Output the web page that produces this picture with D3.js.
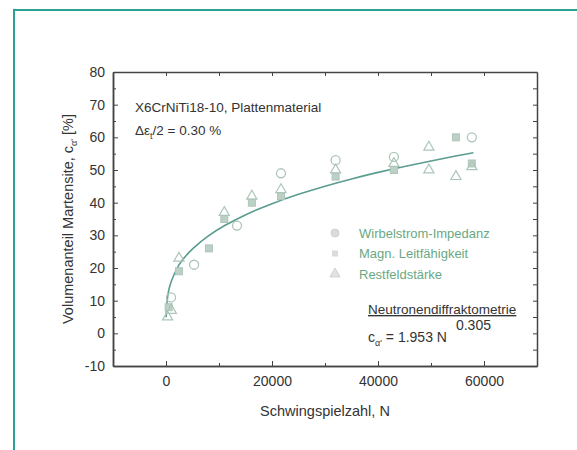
<!DOCTYPE html>
<html>
<head>
<meta charset="utf-8">
<script src="https://cdn.jsdelivr.net/npm/d3@7"></script>
<style>
  body { margin: 0; background: #fff; }
  text { font-family: "Liberation Sans", Arial, sans-serif; }
</style>
</head>
<body>
<div id="chart"></div>
<script>
// x ticks / y ticks
let x_ticks = [0, 20000, 40000, 60000];
let y_ticks = [-10, 0, 10, 20, 30, 40, 50, 60, 70, 80];

// [N, c in %]
let wirbelstrom = [[950, 11], [5300, 21], [13400, 33], [21700, 49], [32000, 53], [43000, 54], [57700, 60]];
let leitfaehigkeit = [[500, 8], [2450, 19], [8100, 26], [11000, 35], [16200, 40], [21700, 42],
                      [32000, 48], [43000, 50], [54700, 60], [57700, 52]];
let restfeld = [[300, 5], [1000, 7], [2450, 23], [11000, 37], [16200, 42], [21700, 44], [32000, 50],
                [43000, 52], [49600, 57], [49600, 50], [54700, 48], [57700, 51]];

// fit curve c = 1.953 N^0.305
let fit_curve = [[20, 4.9], [100, 8.0], [300, 11.5], [600, 13.9], [1000, 16.1], [2000, 19.8], [3000, 22.4],
                 [5000, 26.0], [8000, 30.0], [11000, 33.0], [15000, 36.4], [20000, 39.8], [25000, 42.6],
                 [30000, 45.1], [35000, 47.3], [40000, 49.3], [45000, 51.1], [50000, 52.8], [55000, 54.4], [58000, 55.3]];

let legend_names = ["Wirbelstrom-Impedanz", "Magn. Leitfähigkeit", "Restfeldstärke"];

let W = 577, H = 450;
let margin_left = 113, margin_top = 72, plot_w = 424, plot_h = 294;

let svg = d3.select("#chart").append("svg")
    .attr("width", W).attr("height", H);

// teal frame
svg.append("line").attr("x1", 14).attr("y1", 10).attr("x2", 14).attr("y2", H)
    .attr("stroke", "#2aa395").attr("stroke-width", 2);
svg.append("line").attr("x1", 13).attr("y1", 10).attr("x2", W).attr("y2", 10)
    .attr("stroke", "#2aa395").attr("stroke-width", 2);

let g = svg.append("g").attr("transform", "translate(" + margin_left + "," + margin_top + ")");

let xScale = d3.scaleLinear().domain([-10000, 70000]).range([0, plot_w]);
let yScale = d3.scaleLinear().domain([-10, 80]).range([plot_h, 0]);

let axis_color = "#444";

// axes with inward ticks
let x_axis = g.append("g").attr("transform", "translate(0," + plot_h + ")")
    .call(d3.axisBottom(xScale).tickValues(x_ticks).tickSize(-5).tickSizeOuter(0).tickPadding(10).tickFormat(d => String(d)));
let x_minor = g.append("g").attr("transform", "translate(0," + plot_h + ")")
    .call(d3.axisBottom(xScale).tickValues([10000, 30000, 50000]).tickSize(-3).tickSizeOuter(0).tickFormat(""));
let x_top = g.append("g")
    .call(d3.axisTop(xScale).tickValues(d3.range(0, 70000, 10000)).tickSize(-4).tickSizeOuter(0).tickFormat(""));

let y_axis = g.append("g")
    .call(d3.axisLeft(yScale).tickValues(y_ticks).tickSize(-5).tickSizeOuter(0).tickPadding(8).tickFormat(d => String(d)));
let y_minor = g.append("g")
    .call(d3.axisLeft(yScale).tickValues(d3.range(-5, 80, 10)).tickSize(-3).tickSizeOuter(0).tickFormat(""));
let y_right = g.append("g").attr("transform", "translate(" + plot_w + ",0)")
    .call(d3.axisRight(yScale).tickValues(d3.range(-10, 81, 5)).tickSize(-4).tickSizeOuter(0).tickFormat(""));

g.selectAll(".domain").attr("stroke", axis_color).attr("stroke-width", 1.5);
g.selectAll(".tick line").attr("stroke", axis_color);
g.selectAll(".tick text").attr("fill", "#333").style("font-size", "14px");

// fit line
g.append("path")
    .datum(fit_curve)
    .attr("fill", "none")
    .attr("stroke", "#5a9c90")
    .attr("stroke-width", 1.6)
    .attr("d", d3.line().curve(d3.curveBasis)
        .x(d => xScale(d[0]))
        .y(d => yScale(d[1])));

let mark_color = "#adc6b9";

// open circles
g.selectAll(".circ").data(wirbelstrom).enter().append("circle")
    .attr("cx", d => xScale(d[0])).attr("cy", d => yScale(d[1])).attr("r", 4.5)
    .attr("fill", "none").attr("stroke", mark_color).attr("stroke-width", 1.3);

// filled squares
g.selectAll(".sq").data(leitfaehigkeit).enter().append("rect")
    .attr("x", d => xScale(d[0]) - 3.5).attr("y", d => yScale(d[1]) - 3.5)
    .attr("width", 7).attr("height", 7)
    .attr("fill", "#bcd0c5").attr("stroke", mark_color);

// open triangles
let tri = d3.symbol().type(d3.symbolTriangle).size(45);
g.selectAll(".tri").data(restfeld).enter().append("path")
    .attr("d", tri)
    .attr("transform", d => "translate(" + xScale(d[0]) + "," + yScale(d[1]) + ")")
    .attr("fill", "none").attr("stroke", mark_color).attr("stroke-width", 1.2);

// legend
let legend_x = 222, legend_y0 = 161, legend_dy = 20.5;
let leg = g.append("g");
leg.append("circle").attr("cx", legend_x).attr("cy", legend_y0).attr("r", 4)
    .attr("fill", "#d8dcda").attr("stroke", "#cdd2cf");
leg.append("rect").attr("x", legend_x - 3).attr("y", legend_y0 + legend_dy - 3).attr("width", 6).attr("height", 6)
    .attr("fill", "#d8dcda");
leg.append("path").attr("d", tri)
    .attr("transform", "translate(" + legend_x + "," + (legend_y0 + 2 * legend_dy) + ")")
    .attr("fill", "#e0e3e1").attr("stroke", "#cdd2cf");
leg.selectAll(".legtext").data(legend_names).enter().append("text")
    .attr("x", legend_x + 24)
    .attr("y", (d, i) => legend_y0 + i * legend_dy + 4.5)
    .attr("fill", "#6aa883")
    .style("font-size", "13px")
    .text(d => d);

// annotations
g.append("text").attr("x", 22).attr("y", 40).attr("fill", "#333").style("font-size", "13.5px")
    .text("X6CrNiTi18-10, Plattenmaterial");
let eps = g.append("text").attr("x", 22).attr("y", 63).attr("fill", "#333").style("font-size", "13.5px");
eps.append("tspan").text("Δε");
eps.append("tspan").attr("dy", 4).style("font-size", "9px").text("t");
eps.append("tspan").attr("dy", -4).text("/2 = 0.30 %");

g.append("text").attr("x", 255).attr("y", 242).attr("fill", "#333").style("font-size", "13.5px")
    .attr("text-decoration", "underline")
    .text("Neutronendiffraktometrie");
let fit_txt = g.append("text").attr("x", 255).attr("y", 270).attr("fill", "#333").style("font-size", "14px");
fit_txt.append("tspan").text("c");
fit_txt.append("tspan").attr("dy", 4).style("font-size", "9px").text("α'");
fit_txt.append("tspan").attr("dy", -4).text(" = 1.953 N");
fit_txt.append("tspan").attr("dy", -12).attr("dx", 9).text("0.305");

// axis titles
svg.append("text").attr("x", margin_left + plot_w / 2).attr("y", 416)
    .attr("text-anchor", "middle").attr("fill", "#333").style("font-size", "14.5px")
    .text("Schwingspielzahl, N");

let ylab = svg.append("text")
    .attr("transform", "translate(73," + (margin_top + plot_h / 2) + ") rotate(-90)")
    .attr("text-anchor", "middle").attr("fill", "#333").style("font-size", "14.5px");
ylab.append("tspan").text("Volumenanteil Martensite, c");
ylab.append("tspan").attr("dy", 4).style("font-size", "9px").text("α'");
ylab.append("tspan").attr("dy", -4).text(" [%]");
</script>
</body>
</html>
